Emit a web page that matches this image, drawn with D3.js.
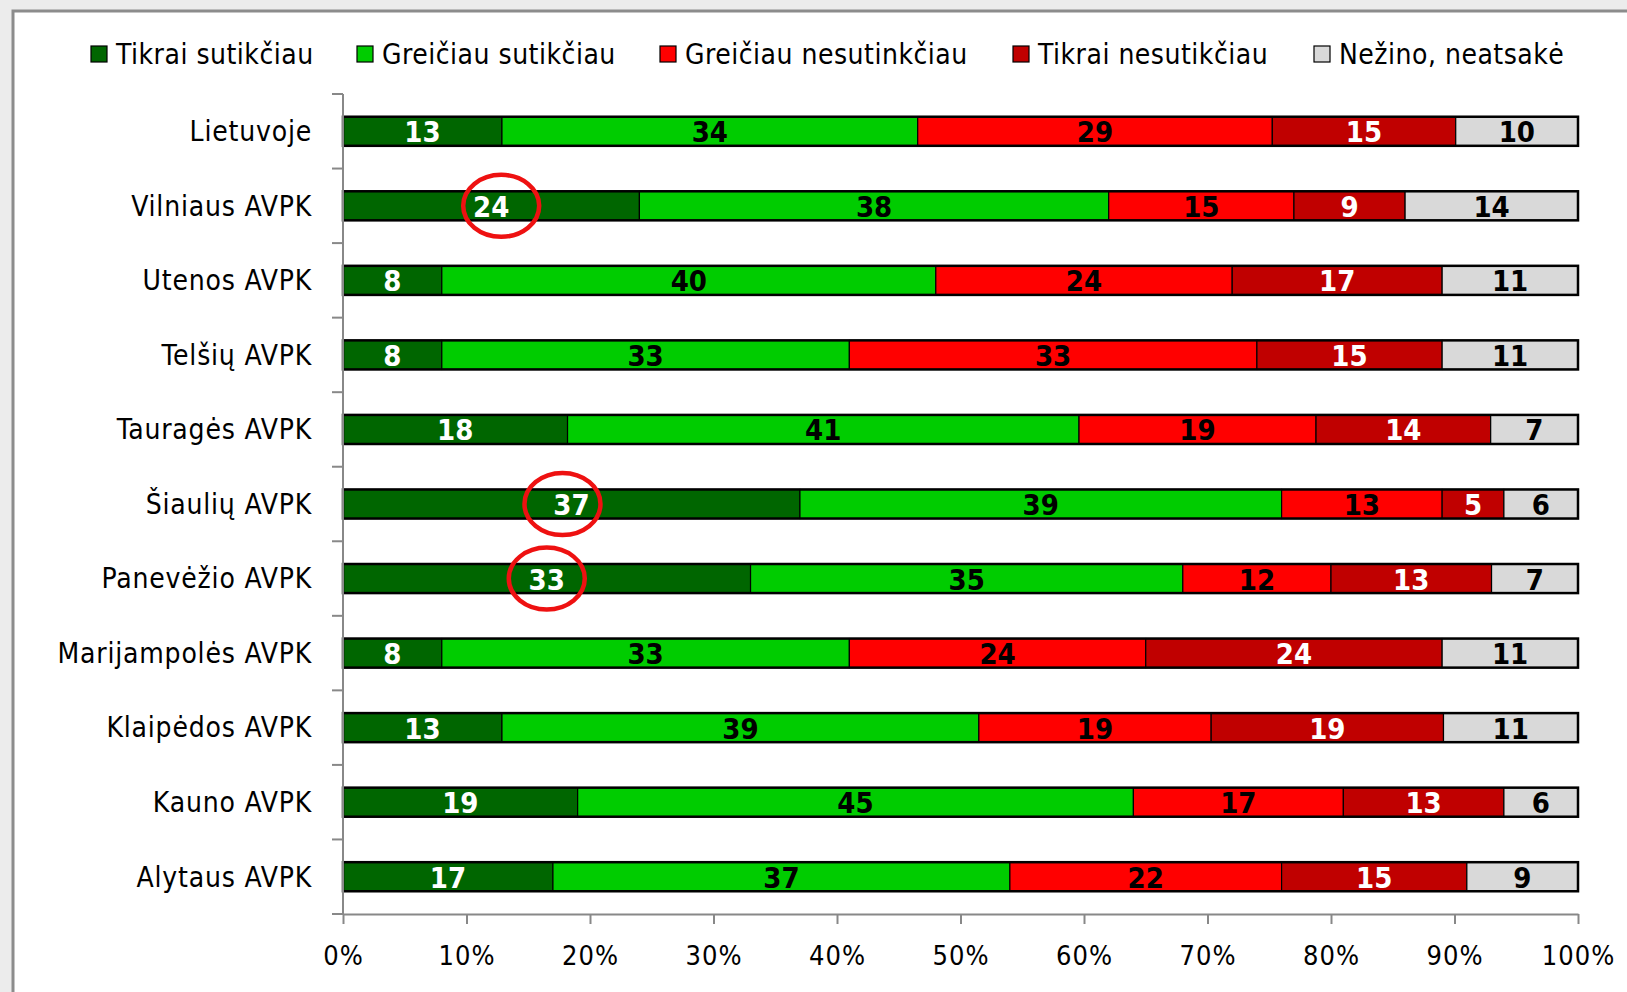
<!DOCTYPE html>
<html>
<head>
<meta charset="utf-8">
<script src="https://cdn.jsdelivr.net/npm/d3@7"></script>
<style>
  body { margin: 0; background: #ececec; }
  svg { display: block; }
  text { font-family: "Liberation Sans Narrow", "DejaVu Sans Condensed", sans-serif; }
</style>
</head>
<body>
<svg></svg>
<script>
const categories = ['Lietuvoje', 'Vilniaus AVPK', 'Utenos AVPK', 'Telšių AVPK', 'Tauragės AVPK',
  'Šiaulių AVPK', 'Panevėžio AVPK', 'Marijampolės AVPK', 'Klaipėdos AVPK', 'Kauno AVPK', 'Alytaus AVPK']
const seriesNames = ['Tikrai sutikčiau', 'Greičiau sutikčiau', 'Greičiau nesutinkčiau', 'Tikrai nesutikčiau', 'Nežino, neatsakė']
const tikraiSutikciau     = [13, 24, 8, 8, 18, 37, 33, 8, 13, 19, 17]
const greiciauSutikciau   = [34, 38, 40, 33, 41, 39, 35, 33, 39, 45, 37]
const greiciauNesutinkciau = [29, 15, 24, 33, 19, 13, 12, 24, 19, 17, 22]
const tikraiNesutikciau   = [15, 9, 17, 15, 14, 5, 13, 24, 19, 13, 15]
const nezino              = [10, 14, 11, 11, 7, 6, 7, 11, 11, 6, 9]
const xTicks = [0, 0.1, 0.2, 0.3, 0.4, 0.5, 0.6, 0.7, 0.8, 0.9, 1]
// circled values: [category, series index]
const highlights = [['Vilniaus AVPK', 0], ['Šiaulių AVPK', 0], ['Panevėžio AVPK', 0]]
const circleShift = [10, -9, 0] // hand-drawn circles are not exactly centred

const colors = ['#006600', '#00cc00', '#ff0000', '#c00000', '#d9d9d9']
const labelColors = ['#fff', '#000', '#000', '#fff', '#000']

const width = 1627
const height = 992
const plot = { left: 343, right: 1578, top: 94, bottom: 914 }

const svg = d3.select('svg')
  .attr('width', width)
  .attr('height', height)

// slide frame
svg.append('rect')
  .attr('x', 13).attr('y', 11)
  .attr('width', width).attr('height', height)
  .attr('fill', '#fff')
  .attr('stroke', '#8c8c8c')
  .attr('stroke-width', 3)

const rows = categories.map((c, i) => {
  const vals = [tikraiSutikciau[i], greiciauSutikciau[i], greiciauNesutinkciau[i], tikraiNesutikciau[i], nezino[i]]
  const total = d3.sum(vals)
  const row = { cat: c }
  vals.forEach((v, j) => { row['s' + j] = v / total; row['v' + j] = v })
  return row
})

const keys = seriesNames.map((d, j) => 's' + j)
const stacked = d3.stack().keys(keys)(rows)

const xScale = d3.scaleLinear()
  .domain([0, 1])
  .range([plot.left, plot.right])

const yScale = d3.scaleBand()
  .domain(categories)
  .range([plot.top, plot.bottom])
  .paddingInner(0.61)
  .paddingOuter(0.305)

// segments
const layers = svg.append('g')
  .selectAll('g')
  .data(stacked)
  .enter()
  .append('g')
  .attr('fill', (d, j) => colors[j])

layers.selectAll('rect')
  .data(d => d)
  .enter()
  .append('rect')
  .attr('x', d => xScale(d[0]))
  .attr('y', d => yScale(d.data.cat))
  .attr('width', d => xScale(d[1]) - xScale(d[0]))
  .attr('height', yScale.bandwidth())
  .attr('stroke', '#000')
  .attr('stroke-width', 1.2)

// outline around each full bar
svg.append('g')
  .selectAll('rect')
  .data(categories)
  .enter()
  .append('rect')
  .attr('x', xScale(0))
  .attr('y', d => yScale(d))
  .attr('width', xScale(1) - xScale(0))
  .attr('height', yScale.bandwidth())
  .attr('fill', 'none')
  .attr('stroke', '#000')
  .attr('stroke-width', 2.5)

// value labels
layers.selectAll('text')
  .data(d => d.map(p => ({ p: p, j: d.index })))
  .enter()
  .append('text')
  .attr('x', d => xScale((d.p[0] + d.p[1]) / 2))
  .attr('y', d => yScale(d.p.data.cat) + yScale.bandwidth() / 2)
  .attr('dy', '0.38em')
  .attr('text-anchor', 'middle')
  .attr('fill', d => labelColors[d.j])
  .style('font-size', '29px')
  .style('font-weight', 'bold')
  .text(d => d.p.data['v' + d.j])

// x axis
const xAxis = d3.axisBottom(xScale)
  .tickValues(xTicks)
  .tickFormat(d3.format('.0%'))
  .tickSize(10)
  .tickSizeOuter(0)
  .tickPadding(22)

const xax = svg.append('g')
  .attr('transform', `translate(0, ${plot.bottom})`)
  .call(xAxis)
xax.select('.domain').attr('stroke', '#888').attr('stroke-width', 2)
xax.selectAll('.tick line').attr('stroke', '#888').attr('stroke-width', 2)
xax.selectAll('.tick text')
  .attr('fill', '#000')
  .style('font-size', '27px')
  .style('letter-spacing', '1px')
  .style('font-family', '"Liberation Sans Narrow", "DejaVu Sans Condensed", sans-serif')

// y axis: line, ticks at band boundaries, labels
const yax = svg.append('g')
yax.append('line')
  .attr('x1', plot.left).attr('x2', plot.left)
  .attr('y1', yScale.range()[0]).attr('y2', yScale.range()[1])
  .attr('stroke', '#888').attr('stroke-width', 2)

const boundaries = categories.map(c => yScale(c) - (yScale.step() - yScale.bandwidth()) / 2)
boundaries.push(yScale.range()[1])
yax.selectAll('.ytick')
  .data(boundaries)
  .enter()
  .append('line')
  .attr('x1', plot.left - 11).attr('x2', plot.left)
  .attr('y1', d => d).attr('y2', d => d)
  .attr('stroke', '#888').attr('stroke-width', 2)

yax.selectAll('text')
  .data(categories)
  .enter()
  .append('text')
  .attr('x', plot.left - 31)
  .attr('y', d => yScale(d) + yScale.bandwidth() / 2)
  .attr('dy', '0.35em')
  .attr('text-anchor', 'end')
  .attr('fill', '#000')
  .style('font-size', '28px')
  .style('letter-spacing', '0.8px')
  .text(d => d)

// legend
const legendX = [91, 357, 660, 1013, 1314]
const legend = svg.append('g')
  .selectAll('g')
  .data(seriesNames)
  .enter()
  .append('g')
  .attr('transform', (d, j) => `translate(${legendX[j]}, 54)`)
legend.append('rect')
  .attr('x', 0).attr('y', -8)
  .attr('width', 16).attr('height', 16)
  .attr('fill', (d, j) => colors[j])
  .attr('stroke', '#000')
  .attr('stroke-width', 1.2)
legend.append('text')
  .attr('x', 25)
  .attr('dy', '0.35em')
  .attr('fill', '#000')
  .style('font-size', '28px')
  .style('letter-spacing', '0.5px')
  .text(d => d)

// red circles round the highlighted values
svg.append('g')
  .selectAll('ellipse')
  .data(highlights)
  .enter()
  .append('ellipse')
  .attr('cx', (d, i) => {
    const p = stacked[d[1]][categories.indexOf(d[0])]
    return xScale((p[0] + p[1]) / 2) + circleShift[i]
  })
  .attr('cy', d => yScale(d[0]) + yScale.bandwidth() / 2)
  .attr('rx', 38)
  .attr('ry', 31)
  .attr('fill', 'none')
  .attr('stroke', '#ee1111')
  .attr('stroke-width', 4.5)
</script>
</body>
</html>
